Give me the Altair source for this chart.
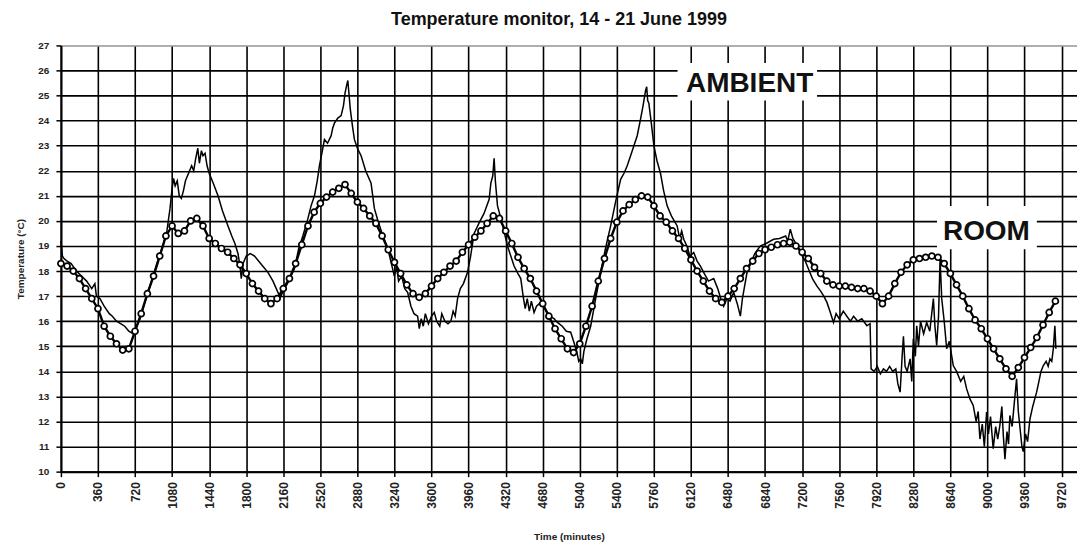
import altair as alt
import pandas as pd

title_text = "Temperature monitor, 14 - 21 June 1999"
x_title = "Time (minutes)"
y_title = "Temperature (°C)"
x_ticks = list(range(0, 9721, 360))
y_ticks = list(range(10, 28))

# ROOM series, one reading every 60 minutes
room_step = 60
room_vals = [
    18.3, 18.2, 18.0, 17.7, 17.3, 16.9, 16.5, 15.8, 15.4, 15.1,
    14.85, 14.9, 15.6, 16.3, 17.1, 17.8, 18.6, 19.4, 19.8, 19.5,
    19.6, 20.0, 20.1, 19.8, 19.3, 19.1, 18.9, 18.75, 18.5, 18.25,
    17.9, 17.5, 17.2, 16.9, 16.7, 16.9, 17.3, 17.7, 18.3, 19.05,
    19.8, 20.35, 20.7, 20.95, 21.15, 21.3, 21.45, 21.1, 20.75, 20.5,
    20.2, 19.9, 19.4, 18.85, 18.35, 17.9, 17.45, 17.1, 16.95, 17.1,
    17.4, 17.7, 17.95, 18.2, 18.4, 18.75, 19.05, 19.35, 19.6, 19.9,
    20.2, 20.1, 19.6, 19.1, 18.55, 18.1, 17.7, 17.2, 16.7, 16.2,
    15.7, 15.3, 14.9, 14.75, 15.1, 15.8, 16.6, 17.6, 18.5, 19.3,
    19.95, 20.4, 20.65, 20.85, 21.0, 20.95, 20.6, 20.2, 19.95, 19.6,
    19.3, 18.9, 18.45, 18.0, 17.6, 17.2, 16.9, 16.75, 17.0, 17.3,
    17.7, 18.1, 18.4, 18.7, 18.85, 18.95, 19.05, 19.1, 19.15, 19.0,
    18.75, 18.5, 18.15, 17.9, 17.6, 17.45, 17.4, 17.4, 17.35, 17.3,
    17.3, 17.2, 17.0, 16.7, 17.0, 17.5, 17.95, 18.25, 18.45, 18.5,
    18.55, 18.6, 18.55, 18.3, 17.9, 17.45, 17.0, 16.5, 16.05, 15.7,
    15.3, 14.9, 14.5, 14.1, 13.8, 14.15, 14.55, 14.95, 15.35, 15.85,
    16.35, 16.8,
]

# AMBIENT series (minutes, temperature)
amb_t = [
    0, 15, 30, 60, 100, 150, 200, 250, 300, 330, 345, 380, 420, 470, 500, 540, 580, 620, 660, 700, 720,
    760, 820, 880, 940, 990, 1030, 1060, 1080, 1095, 1110, 1130, 1150, 1170, 1190, 1210, 1240, 1270,
    1290, 1310, 1330, 1345, 1365, 1380, 1400, 1420, 1440,
    1480, 1526, 1570, 1623, 1660, 1690, 1720, 1740, 1752, 1770, 1800, 1840, 1881, 1920, 1960, 2011,
    2060, 2108, 2130, 2160, 2200,
    2269, 2310, 2350, 2398, 2430, 2463, 2490, 2511, 2540, 2560, 2590, 2625, 2640, 2657, 2690, 2722,
    2745, 2760, 2775, 2787, 2800, 2810, 2819, 2835, 2851,
    2880, 2916, 2960, 3013, 3045, 3080, 3120, 3175, 3210, 3239, 3260, 3280, 3310, 3340, 3368, 3400,
    3430, 3465, 3481, 3500, 3520, 3540, 3570, 3600, 3627, 3650, 3680, 3700, 3730, 3760, 3788, 3810,
    3830, 3853, 3880, 3910, 3950, 3980, 4014, 4060, 4110, 4160, 4176, 4195, 4208, 4220, 4241, 4280,
    4338, 4370, 4402, 4440, 4467, 4490, 4510, 4530, 4550, 4570, 4596, 4620, 4660, 4700, 4750, 4790,
    4823, 4870, 4910, 4952, 4980, 5010, 5030, 5049, 5065, 5080, 5110, 5146, 5190, 5243, 5290, 5340,
    5390, 5437, 5470, 5501, 5550, 5598, 5630, 5655, 5679, 5690, 5700, 5711, 5735, 5760,
    5790, 5824, 5855, 5889, 5930, 5986, 6010, 6030, 6050, 6080, 6110, 6147, 6180, 6212, 6250, 6290,
    6341, 6380, 6410, 6438, 6470, 6500, 6535, 6570, 6600, 6620, 6665, 6700, 6740, 6793, 6850, 6923,
    6980, 7040, 7060, 7085, 7110, 7140, 7182, 7230, 7270, 7300, 7344, 7380, 7410, 7441, 7470, 7505,
    7530, 7560, 7600, 7634, 7670, 7700, 7740, 7780, 7829, 7860, 7870, 7900, 7930, 7960, 7990, 8020,
    8050, 8080, 8110, 8130, 8152, 8170, 8184, 8200, 8220, 8249, 8265, 8280, 8300, 8313, 8330, 8350,
    8380, 8410, 8440, 8475, 8490, 8507, 8525, 8540, 8556, 8580, 8604, 8630, 8668, 8700, 8740, 8770, 8798,
    8830, 8862, 8890, 8910, 8927, 8950, 8970, 8992, 9010, 9030, 9056, 9080, 9100, 9121, 9140, 9155,
    9170, 9190, 9205, 9218, 9240, 9260, 9283, 9300, 9320, 9335, 9348, 9370, 9390, 9413, 9440, 9460,
    9478, 9500, 9520, 9543, 9570, 9590, 9607, 9625, 9640, 9655, 9665,
]
amb_v = [
    19.2, 18.6, 18.5, 18.4, 18.3, 18.0, 17.8, 17.6, 17.3, 17.5, 17.0, 16.9, 16.6, 16.3, 16.2, 16.0, 15.9, 15.8, 15.6, 15.5, 15.7,
    16.0, 16.8, 17.6, 18.4, 19.0, 19.6, 20.5, 21.3, 21.7, 21.4, 21.6, 21.0, 20.9, 21.2, 21.6, 21.9, 22.2,
    22.0, 22.5, 22.9, 22.3, 22.8, 22.6, 22.7, 22.2, 21.9,
    21.5, 21.0, 20.4, 19.8, 19.4, 19.1, 18.7, 18.2, 17.7, 18.3, 18.6, 18.7, 18.6, 18.4, 18.2, 17.95,
    17.6, 17.15, 16.95, 17.2, 17.5,
    18.1, 18.9, 19.4, 20.07, 20.6, 21.0, 21.6, 22.2, 22.8, 23.25, 23.1, 23.4, 23.7, 23.9, 24.1, 24.2,
    24.6, 25.1, 25.4, 25.6, 25.0, 24.5, 24.2, 23.7, 23.25,
    22.9, 22.6, 22.0, 21.5, 20.5, 20.0, 19.5, 18.9, 18.3, 17.8, 18.2, 17.6, 17.8, 17.3, 17.15, 16.6,
    16.3, 16.2, 15.7, 16.1, 15.8, 16.3, 15.9, 16.2, 16.35, 16.0, 15.8, 16.3, 16.0, 15.9, 16.0, 16.4,
    16.2, 16.9, 17.3, 17.5, 17.95, 18.6, 19.5, 19.9, 20.3, 20.86, 21.5, 21.8, 22.5, 21.6, 20.6, 20.0,
    19.0, 18.6, 18.2, 17.9, 17.7, 17.0, 16.5, 16.9, 16.4, 16.8, 16.35, 16.6, 16.75, 16.5, 16.2, 16.1,
    15.95, 15.8, 15.6, 15.56, 15.2, 14.8, 14.4, 14.5, 14.3, 14.8, 15.3, 15.8, 16.8, 17.95, 18.9, 19.8,
    20.8, 21.66, 21.9, 22.2, 22.8, 23.4, 24.05, 24.6, 25.2, 25.35, 24.8, 24.7, 23.9, 23.0,
    22.4, 21.9, 21.2, 20.6, 20.2, 19.8, 19.3, 19.6, 19.27, 19.0, 18.6, 18.74, 18.4, 18.2, 17.9, 17.6,
    17.7, 17.3, 16.9, 16.6, 16.9, 16.8, 17.15, 16.7, 16.2, 16.9, 17.95, 18.3, 18.7, 19.0, 19.1, 19.27,
    19.3, 19.4, 19.2, 19.67, 19.3, 19.1, 18.74, 18.4, 18.0, 17.7, 17.4, 17.2, 17.0, 16.75, 16.4, 15.95,
    16.3, 16.1, 16.4, 16.2, 16.0, 16.2, 16.0, 16.1, 15.82, 15.9, 14.1, 14.0, 14.2, 13.9, 14.1, 14.0,
    14.2, 14.0, 14.1, 13.5, 13.17, 14.5, 15.4, 14.2, 14.0, 14.5, 13.6, 15.3, 14.6, 15.82, 15.0, 16.0,
    15.5, 15.95, 15.6, 16.9, 15.8, 15.03, 16.2, 18.5, 16.9, 16.0, 14.9, 15.2, 14.23, 14.0, 13.6, 13.8, 13.3,
    12.9, 12.64, 12.0, 12.4, 11.3, 11.9, 11.0, 12.38, 11.5, 12.2, 10.92, 11.8, 11.3, 11.85, 12.6, 11.4,
    10.5, 11.6, 11.1, 12.24, 11.8, 12.7, 13.7, 12.4, 11.6, 11.0, 10.8, 11.5, 11.2, 12.1, 12.6, 12.9,
    13.17, 13.6, 14.0, 14.23, 14.4, 14.2, 14.5, 14.4, 14.9, 15.82, 14.9,
]

label_text = ["AMBIENT", "ROOM"]
label_x = [6690, 8990]
label_y = [25.45, 19.55]
box_x1 = [5990, 8510]
box_x2 = [7345, 9480]
box_y1 = [24.8, 18.87]
box_y2 = [26.3, 20.6]

room_df = pd.DataFrame({"t": [i * room_step for i in range(len(room_vals))], "v": room_vals})
amb_df = pd.DataFrame({"t": amb_t, "v": amb_v})
lab_df = pd.DataFrame({"t": label_x, "v": label_y, "label": label_text})
box_df = pd.DataFrame({"t": box_x1, "t2": box_x2, "v": box_y1, "v2": box_y2})

FONT = "Liberation Sans"
xscale = alt.Scale(domain=[0, 9870], nice=False, zero=False)
yscale = alt.Scale(domain=[10, 27], nice=False, zero=False)

x_axis = alt.Axis(
    values=x_ticks, format="d", labelAngle=270, labelFont=FONT, labelFontSize=12,
    labelFontWeight="bold", labelColor="#222", labelPadding=5,
    tickColor="black", tickSize=5, tickWidth=1.5,
    domainColor="black", domainWidth=2,
    grid=True, gridColor="black", gridWidth=1.6, gridOpacity=1,
    title=x_title, titleFont=FONT, titleFontSize=10, titleFontWeight="bold",
    titleColor="#222", titlePadding=23,
)
y_axis = alt.Axis(
    values=y_ticks, format="d", labelFont=FONT, labelFontSize=10,
    labelFontWeight="bold", labelColor="#222", labelPadding=7,
    tickColor="black", tickSize=5, tickWidth=1.5,
    domainColor="black", domainWidth=2,
    grid=True, gridWidth=1.6, gridOpacity=1,
    gridColor=alt.condition("datum.value == 27", alt.value("#9a9a9a"), alt.value("black")),
    title=y_title, titleFont=FONT, titleFontSize=10, titleFontWeight="bold",
    titleColor="#222", titlePadding=12,
)

enc_x = alt.X("t:Q", scale=xscale, axis=x_axis)
enc_y = alt.Y("v:Q", scale=yscale, axis=y_axis)

boxes = alt.Chart(box_df).mark_rect(fill="white", stroke=None).encode(
    x=enc_x, x2="t2:Q", y=enc_y, y2="v2:Q",
)
amb = alt.Chart(amb_df).mark_line(color="black", strokeWidth=1.5).encode(x=enc_x, y=enc_y)
room_line = alt.Chart(room_df).mark_line(color="black", strokeWidth=2.4).encode(x=enc_x, y=enc_y)
room_pts = alt.Chart(room_df).mark_point(
    shape="circle", filled=True, fill="white", stroke="black", strokeWidth=1.7, size=36, opacity=1
).encode(x=enc_x, y=enc_y)
labels = alt.Chart(lab_df).mark_text(
    font=FONT, fontSize=28, fontWeight="bold", color="#111", align="center", baseline="middle"
).encode(x=enc_x, y=enc_y, text="label:N")

chart = alt.layer(boxes, amb, room_line, room_pts, labels).properties(
    width=1018,
    height=427,
    padding={"left": 7, "top": 3, "right": 0, "bottom": 0},
    title=alt.TitleParams(
        title_text, font=FONT, fontSize=18, fontWeight="bold", color="#111",
        anchor="middle", offset=11, dx=-10,
    ),
).configure_view(stroke=None).configure(background="white")

chart.save("out.html", embed_options={"renderer": "svg", "actions": False})
